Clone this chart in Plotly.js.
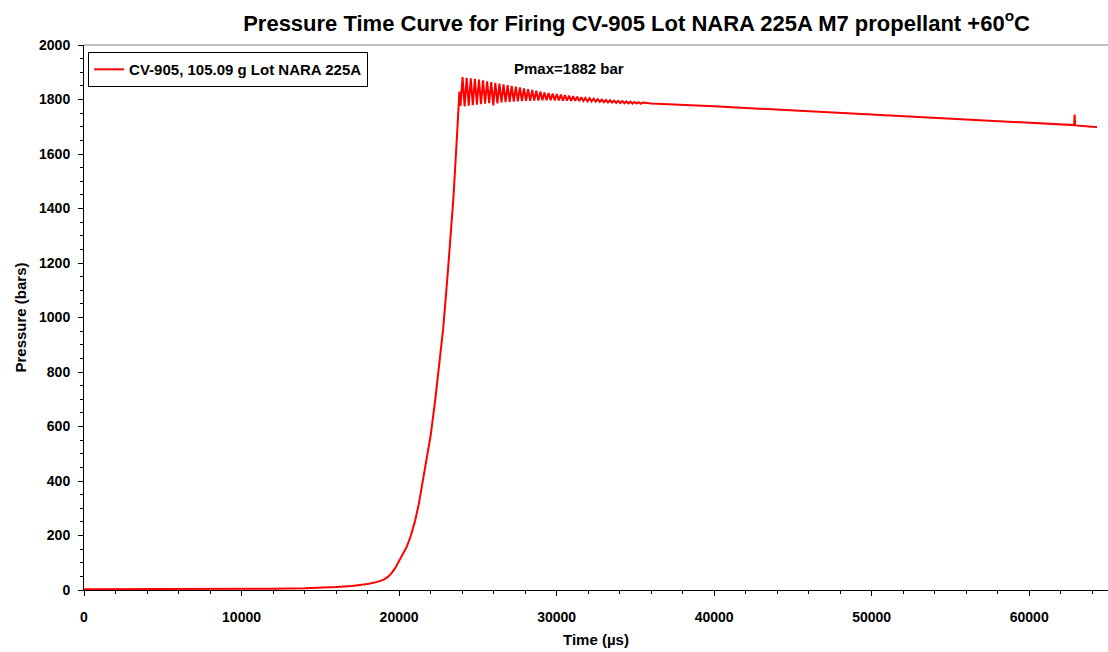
<!DOCTYPE html>
<html>
<head>
<meta charset="utf-8">
<script src="https://cdn.plot.ly/plotly-3.0.1.min.js"></script>
<style>html,body{margin:0;padding:0;background:#fff}#chart{width:1108px;height:652px}</style>
</head>
<body>
<div id="chart"></div>
<script>
// Time (µs) and pressure (bar)
const riseTime = [0, 5000, 10000, 12000, 14000, 15000, 16000, 17000, 17500, 18000, 18500, 19000, 19250, 19500, 19750, 20000, 20250, 20500, 20750, 21000, 21250, 21500, 21750, 22000, 22300, 22550, 22800, 23100, 23450, 23650, 23780, 23830];
const risePressure = [3, 3, 4, 5, 6, 8, 11, 15, 18, 22, 28, 37, 46, 60, 80, 105, 130, 160, 200, 250, 315, 395, 475, 565, 700, 830, 960, 1170, 1440, 1640, 1790, 1829];

const ringTime = [23900, 24030, 24160, 24290, 24420, 24550, 24680, 24810, 24940, 25070, 25200, 25330, 25460, 25590, 25720, 25850, 25980, 26110, 26240, 26370, 26500, 26630, 26760, 26890, 27020, 27150, 27280, 27410, 27540, 27670, 27800, 27930, 28060, 28190, 28320, 28450, 28580, 28710, 28840, 28970, 29100, 29230, 29360, 29490, 29620, 29750, 29880, 30010, 30140, 30270, 30400, 30530, 30660, 30790, 30920, 31050, 31180, 31310, 31440, 31570, 31700, 31830, 31960, 32090, 32220, 32350, 32480, 32610, 32740, 32870, 33000, 33130, 33260, 33390, 33520, 33650, 33780, 33910, 34040, 34170, 34300, 34430, 34560, 34690, 34820, 34950, 35080, 35210, 35340, 35470];
const ringPressure = [1776, 1882, 1775, 1880, 1777, 1878, 1779, 1876, 1781, 1873, 1783, 1870, 1785, 1867, 1787, 1864, 1778, 1861, 1786, 1858, 1789, 1856, 1790, 1853, 1791, 1850, 1792, 1847, 1793, 1844, 1794, 1841, 1795, 1838, 1795, 1835, 1796, 1832, 1796, 1829, 1797, 1826, 1797, 1824, 1797, 1822, 1797, 1820, 1797, 1818, 1796, 1816, 1796, 1814, 1795, 1812, 1795, 1810, 1794, 1808, 1794, 1806, 1793, 1805, 1793, 1803, 1792, 1801, 1791, 1800, 1790, 1798, 1789, 1797, 1789, 1796, 1788, 1795, 1787, 1794, 1786, 1793, 1786, 1792, 1785, 1791, 1785, 1790, 1784, 1789];

const tailTime = [36000, 38000, 40000, 42000, 44000, 46000, 48000, 50000, 52000, 54000, 56000, 58000, 60000, 62000, 62850, 62880, 62920, 64000, 64300];
const tailPressure = [1785, 1781, 1775, 1769, 1763, 1757, 1751, 1745, 1738, 1731, 1725, 1719, 1714, 1708, 1706, 1745, 1705, 1700, 1699];

const seriesName = 'CV-905, 105.09 g Lot NARA 225A';
const pmaxLabel = 'Pmax=1882 bar';
const pmaxPos = [30800, 1915];

const t = riseTime.concat(ringTime, tailTime);
const p = risePressure.concat(ringPressure, tailPressure);

const FAM = 'Liberation Sans, Arial, sans-serif';
const font = {family: FAM, size: 15, color: '#000', weight: 700};
const tickFont = {family: FAM, size: 14, color: '#000', weight: 700};

const trace = {
  x: t, y: p, type: 'scatter', mode: 'lines', name: seriesName,
  line: {color: '#ff0000', width: 2}, hoverinfo: 'skip'
};

const layout = {
  width: 1108, height: 652,
  margin: {l: 84, r: 0, t: 45, b: 62},
  paper_bgcolor: '#fff', plot_bgcolor: '#fff',
  font: font,
  showlegend: true,
  title: {
    text: 'Pressure Time Curve for Firing CV-905 Lot NARA 225A M7 propellant +60<sup>o</sup>C',
    font: {family: FAM, size: 22, color: '#000', weight: 700},
    x: 0.5745, xanchor: 'center', xref: 'container', y: 0.965, yanchor: 'middle', yref: 'container'
  },
  xaxis: {
    range: [0, 65000], showgrid: false, zeroline: false,
    showline: true, linecolor: '#000', linewidth: 1,
    ticks: 'outside', ticklen: 5, tickcolor: '#000', tickwidth: 1,
    dtick: 10000, tick0: 0, tickformat: 'd',
    tickfont: tickFont, ticklabelstandoff: 9,
    minor: {dtick: 2000, ticks: 'outside', ticklen: 3, tickcolor: '#000', showgrid: false},
    title: {text: 'Time (\u00b5s)', font: font, standoff: 10}
  },
  yaxis: {
    range: [0, 2000], showgrid: false, zeroline: false,
    showline: true, linecolor: '#000', linewidth: 1,
    ticks: 'outside', ticklen: 5, tickcolor: '#000', tickwidth: 1,
    dtick: 200, tick0: 0, tickformat: 'd',
    tickfont: tickFont, ticklabelstandoff: 5,
    minor: {dtick: 50, ticks: 'outside', ticklen: 3, tickcolor: '#000', showgrid: false},
    title: {text: 'Pressure (bars)', font: font, standoff: 8}
  },
  legend: {
    x: 0.004, y: 0.987, xanchor: 'left', yanchor: 'top',
    bgcolor: '#fff', bordercolor: '#000', borderwidth: 1,
    font: font, itemwidth: 30, tracegroupgap: 0
  },
  shapes: [
    {type: 'line', xref: 'paper', yref: 'paper', x0: 0, x1: 1, y0: 1, y1: 1, line: {color: '#808080', width: 1}}
  ],
  annotations: [
    {x: pmaxPos[0], y: pmaxPos[1], xref: 'x', yref: 'y', text: pmaxLabel, showarrow: false, font: font}
  ]
};

Plotly.newPlot('chart', [trace], layout, {displayModeBar: false, staticPlot: true});
</script>
</body>
</html>
